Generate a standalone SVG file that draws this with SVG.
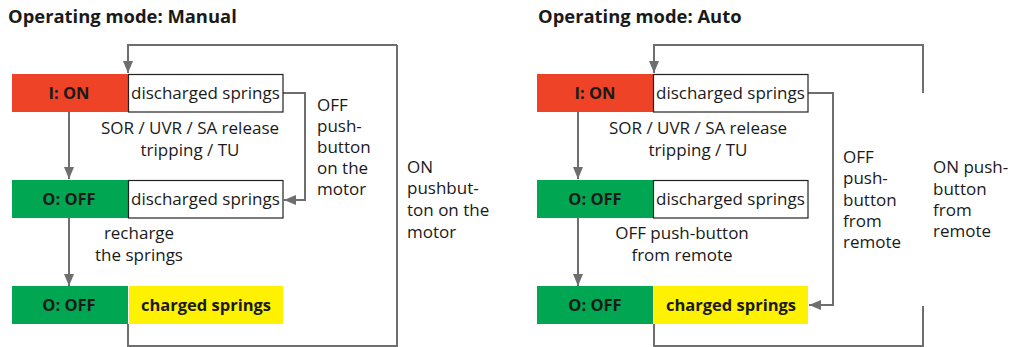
<svg xmlns="http://www.w3.org/2000/svg" width="1014" height="347" viewBox="0 0 1014 347">
<style>
text{font-family:"Open Sans","Noto Sans",sans-serif;font-size:17px;fill:#1a1a1a}
.t{font-weight:bold;font-size:18.4px}
.b{font-weight:bold;font-size:16.5px}
.m{text-anchor:middle}
.red{fill:#ee4326}
.grn{fill:#00a651}
.yel{fill:#fff200}
.wht{fill:#fff;stroke:#222;stroke-width:1.2}
.ln{fill:none;stroke:#6e6e6e;stroke-width:2}
</style>
<defs>
<marker id="ah" viewBox="0 0 12 10" refX="12" refY="5" markerWidth="12" markerHeight="10" markerUnits="userSpaceOnUse" orient="auto">
<path d="M0,0 L12,5 L0,10 Z" fill="#6e6e6e"/>
</marker>
</defs>
<text class="t" x="8" y="23">Operating mode: Manual</text>
<text class="t" x="538" y="23">Operating mode: Auto</text>
<g id="connectors">
<path class="ln" d="M397,45 H128 V73" marker-end="url(#ah)"/>
<path class="ln" d="M283,93 H305 V200 H284" marker-end="url(#ah)"/>
<path class="ln" d="M69,112 V179" marker-end="url(#ah)"/>
<path class="ln" d="M69,218 V286" marker-end="url(#ah)"/>
<path class="ln" d="M128,324 V346 H397 V45"/>
<path class="ln" d="M923,93 V45 H654 V73" marker-end="url(#ah)"/>
<path class="ln" d="M808,93 H833 V305 H809" marker-end="url(#ah)"/>
<path class="ln" d="M578,112 V179" marker-end="url(#ah)"/>
<path class="ln" d="M578,218 V286" marker-end="url(#ah)"/>
<path class="ln" d="M654,324 V346 H923 V306"/>
</g>
<g id="manual-on">
<rect class="red" x="12" y="74" width="116" height="38"/>
<text class="b m" x="69" y="99">I: ON</text>
<rect class="wht" x="128.5" y="74.5" width="154.5" height="37.5"/>
<text x="131" y="99">discharged springs</text>
</g>
<g id="manual-off1">
<rect class="grn" x="12" y="180" width="116" height="38"/>
<text class="b m" x="69" y="205">O: OFF</text>
<rect class="wht" x="128.5" y="180.5" width="154.5" height="37.5"/>
<text x="131" y="205">discharged springs</text>
</g>
<g id="manual-off2">
<rect class="grn" x="12" y="286" width="116" height="38"/>
<text class="b m" x="69" y="311">O: OFF</text>
<rect class="yel" x="129" y="286" width="154" height="38"/>
<text class="b m" x="206" y="311">charged springs</text>
</g>
<g id="manual-labels">
<text class="m" x="190" y="134">SOR / UVR / SA release</text>
<text class="m" x="190" y="156">tripping / TU</text>
<text class="m" x="139" y="239">recharge</text>
<text class="m" x="139" y="261">the springs</text>
<text x="317" y="111">OFF</text>
<text x="317" y="132">push-</text>
<text x="317" y="153">button</text>
<text x="317" y="174">on the</text>
<text x="317" y="195">motor</text>
<text x="407" y="173">ON</text>
<text x="407" y="194">pushbut-</text>
<text x="407" y="216">ton on the</text>
<text x="407" y="238">motor</text>
</g>
<g id="auto-on">
<rect class="red" x="537" y="74" width="116" height="38"/>
<text class="b m" x="595" y="99">I: ON</text>
<rect class="wht" x="653.5" y="74.5" width="154.5" height="37.5"/>
<text x="656" y="99">discharged springs</text>
</g>
<g id="auto-off1">
<rect class="grn" x="537" y="180" width="116" height="38"/>
<text class="b m" x="595" y="205">O: OFF</text>
<rect class="wht" x="653.5" y="180.5" width="154.5" height="37.5"/>
<text x="656" y="205">discharged springs</text>
</g>
<g id="auto-off2">
<rect class="grn" x="537" y="286" width="116" height="38"/>
<text class="b m" x="595" y="311">O: OFF</text>
<rect class="yel" x="654" y="286" width="154" height="38"/>
<text class="b m" x="731" y="311">charged springs</text>
</g>
<g id="auto-labels">
<text class="m" x="698" y="134">SOR / UVR / SA release</text>
<text class="m" x="698" y="156">tripping / TU</text>
<text class="m" x="682" y="239">OFF push-button</text>
<text class="m" x="682" y="261">from remote</text>
<text x="843" y="163">OFF</text>
<text x="843" y="184">push-</text>
<text x="843" y="206">button</text>
<text x="843" y="227">from</text>
<text x="843" y="248">remote</text>
<text x="933" y="173">ON push-</text>
<text x="933" y="195">button</text>
<text x="933" y="216">from</text>
<text x="933" y="237">remote</text>
</g>
</svg>
